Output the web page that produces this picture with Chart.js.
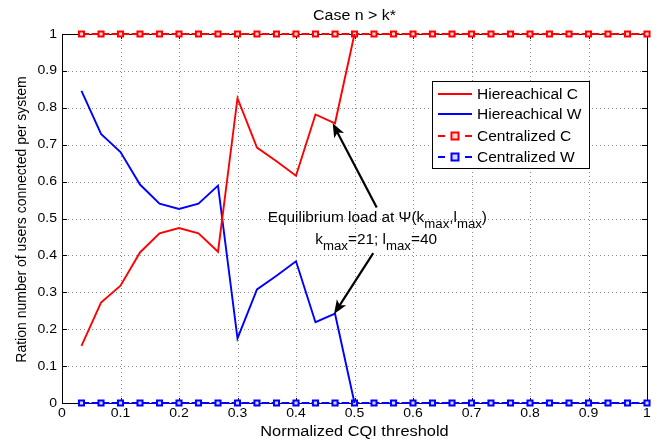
<!DOCTYPE html>
<html><head><meta charset="utf-8">
<script src="https://cdn.jsdelivr.net/npm/chart.js@4"></script>
<style>html,body{margin:0;padding:0;background:#fff}#wrap{width:669px;height:442px}</style>
</head><body><div id="wrap"><canvas id="c" width="669" height="442"></canvas></div>
<script>
const titleText = 'Case n > k*';
const xLabel = 'Normalized CQI threshold';
const yLabel = 'Ration number of users connected per system';
const xTicks = [0,0.1,0.2,0.3,0.4,0.5,0.6,0.7,0.8,0.9,1];
const yTicks = [0,0.1,0.2,0.3,0.4,0.5,0.6,0.7,0.8,0.9,1];
const hierX = [0.0333,0.0667,0.1,0.1333,0.1667,0.2,0.2333,0.2667,0.3,0.3333,0.3667,0.4,0.4333,0.4667,0.5];
const hierC = [0.155,0.272,0.318,0.408,0.460,0.474,0.460,0.410,0.826,0.692,0.655,0.616,0.782,0.758,1.0];
const hierW = [0.846,0.729,0.680,0.592,0.540,0.526,0.540,0.589,0.175,0.308,0.345,0.384,0.219,0.242,0.0];
const centX = [0.0333,0.0667,0.1,0.1333,0.1667,0.2,0.2333,0.2667,0.3,0.3333,0.3667,0.4,0.4333,0.4667,0.5,0.5333,0.5667,0.6,0.6333,0.6667,0.7,0.7333,0.7667,0.8,0.8333,0.8667,0.9,0.9333,0.9667,1.0];
const centC = [1,1,1,1,1,1,1,1,1,1,1,1,1,1,1,1,1,1,1,1,1,1,1,1,1,1,1,1,1,1];
const centW = [0,0,0,0,0,0,0,0,0,0,0,0,0,0,0,0,0,0,0,0,0,0,0,0,0,0,0,0,0,0];
const seriesLabels = ['Hiereachical C','Hiereachical W','Centralized C','Centralized W'];
// annotation anchors in data units
const arrows = [
  {from:[0.538,0.530], to:[0.4627,0.758]},
  {from:[0.532,0.406], to:[0.465,0.241]}
];
const annoLine1 = [['Equilibrium load at \u03A8(k',0],['max',1],[',l',0],['max',1],[')',0]];
const annoLine2 = [['k',0],['max',1],['=21; l',0],['max',1],['=40',0]];
const annoPos1 = [0.539,0.501];
const annoPos2 = [0.537,0.442];

const FONT = '"Liberation Sans", Arial, Helvetica, sans-serif';
const SX = 1.14; // horizontal text stretch seen in the reference
const pts = (xs, ys) => xs.map((x,i)=>({x:x,y:ys[i]}));

function txt(ctx, s, x, y, align, size, sx){
  ctx.save();
  ctx.font = size + 'px ' + FONT;
  ctx.textBaseline = 'middle';
  ctx.textAlign = align;
  ctx.translate(x, y); ctx.scale(sx || SX, 1);
  ctx.fillText(s, 0, 0);
  ctx.restore();
}

const gridPlugin = {
  id:'dotgrid',
  beforeDatasetsDraw(chart){
    const ctx = chart.ctx, a = chart.chartArea, xs = chart.scales.x, ys = chart.scales.y;
    ctx.save();
    ctx.fillStyle = '#8c8c8c';
    xTicks.slice(1,-1).forEach(t=>{
      const p = Math.round(xs.getPixelForValue(t));
      for(let y=a.top+2; y<a.bottom; y+=4) ctx.fillRect(p, y, 1, 1);
    });
    yTicks.slice(1,-1).forEach(t=>{
      const p = Math.round(ys.getPixelForValue(t));
      for(let x=a.left+2; x<a.right; x+=4) ctx.fillRect(x, p, 1, 1);
    });
    ctx.strokeStyle = '#000'; ctx.lineWidth = 1;
    ctx.strokeRect(Math.round(a.left)+0.5, Math.round(a.top)+0.5, Math.round(a.right-a.left), Math.round(a.bottom-a.top));
    ctx.beginPath();
    xTicks.forEach(t=>{const p=Math.round(xs.getPixelForValue(t))+0.5;
      ctx.moveTo(p,a.bottom); ctx.lineTo(p,a.bottom-5); ctx.moveTo(p,a.top); ctx.lineTo(p,a.top+5);});
    yTicks.forEach(t=>{const p=Math.round(ys.getPixelForValue(t))+0.5;
      ctx.moveTo(a.left,p); ctx.lineTo(a.left+5,p); ctx.moveTo(a.right,p); ctx.lineTo(a.right-5,p);});
    ctx.stroke();
    ctx.restore();
  }
};

const decor = {
  id:'decor',
  afterDatasetsDraw(chart){
    const ctx = chart.ctx, a = chart.chartArea, xs = chart.scales.x, ys = chart.scales.y;
    ctx.save();
    ctx.fillStyle = '#000';
    xTicks.forEach(t=>txt(ctx, String(t), xs.getPixelForValue(t), 413, 'center', 13, 1.08));
    yTicks.forEach(t=>txt(ctx, String(t), a.left-5, ys.getPixelForValue(t), 'right', 13, 1.08));
    txt(ctx, titleText, (a.left+a.right)/2, 16, 'center', 14);
    txt(ctx, xLabel, (a.left+a.right)/2, 432, 'center', 14, 1.17);
    ctx.save(); ctx.translate(22,(a.top+a.bottom)/2+1); ctx.rotate(-Math.PI/2);
    ctx.font='14px '+FONT; ctx.textAlign='center'; ctx.textBaseline='middle';
    ctx.fillText(yLabel,0,0); ctx.restore();
    arrows.forEach(ar=>{
      const x1=xs.getPixelForValue(ar.from[0]), y1=ys.getPixelForValue(ar.from[1]);
      const x2=xs.getPixelForValue(ar.to[0]), y2=ys.getPixelForValue(ar.to[1]);
      const ang=Math.atan2(y2-y1,x2-x1), L=15, W=0.38;
      ctx.strokeStyle='#000'; ctx.lineWidth=2.2;
      ctx.beginPath(); ctx.moveTo(x1,y1); ctx.lineTo(x2-Math.cos(ang)*8,y2-Math.sin(ang)*8); ctx.stroke();
      ctx.beginPath(); ctx.moveTo(x2,y2);
      ctx.lineTo(x2-L*Math.cos(ang-W), y2-L*Math.sin(ang-W));
      ctx.lineTo(x2-L*0.7*Math.cos(ang), y2-L*0.7*Math.sin(ang));
      ctx.lineTo(x2-L*Math.cos(ang+W), y2-L*Math.sin(ang+W));
      ctx.closePath(); ctx.fill();
    });
    const drawRich = (parts, pos)=>{
      const big='14px '+FONT, small='12px '+FONT;
      let w=0; parts.forEach(p=>{ctx.font=p[1]?small:big; w+=ctx.measureText(p[0]).width;});
      const cx=xs.getPixelForValue(pos[0]), y=ys.getPixelForValue(pos[1]);
      ctx.save(); ctx.translate(cx,y); ctx.scale(1.1,1);
      let x=-w/2;
      ctx.textAlign='left'; ctx.textBaseline='middle';
      parts.forEach(p=>{ctx.font=p[1]?small:big; ctx.fillText(p[0],x,p[1]?7:0); x+=ctx.measureText(p[0]).width;});
      ctx.restore();
    };
    drawRich(annoLine1, annoPos1);
    drawRich(annoLine2, annoPos2);
    const lx=432, ly=81, lw=157, lh=87;
    ctx.fillStyle='#fff'; ctx.fillRect(lx,ly,lw,lh);
    ctx.strokeStyle='#000'; ctx.lineWidth=1; ctx.strokeRect(lx+0.5,ly+0.5,lw,lh);
    const rows=[94,114,136,157], cols=['#ff0000','#0000ff','#ff0000','#0000ff'], fills=['','','#ffd6d6','#d6d6ff'];
    rows.forEach((ry,i)=>{
      ctx.strokeStyle=cols[i]; ctx.lineWidth=2;
      if(i<2){ctx.beginPath(); ctx.moveTo(438,ry); ctx.lineTo(472,ry); ctx.stroke();}
      else{
        ctx.beginPath(); ctx.moveTo(438,ry); ctx.lineTo(445,ry); ctx.moveTo(465,ry); ctx.lineTo(472,ry); ctx.stroke();
        ctx.lineWidth=2; ctx.fillStyle=fills[i]; ctx.fillRect(451.5,ry-3.5,7,7); ctx.strokeRect(451.5,ry-3.5,7,7);
      }
      ctx.fillStyle='#000';
      txt(ctx, seriesLabels[i], 477, ry+1, 'left', 14, 1.11);
    });
    ctx.restore();
  }
};

new Chart(document.getElementById('c'),{
  type:'line',
  data:{datasets:[
    {label:seriesLabels[0],data:pts(hierX,hierC),borderColor:'#ff0000',borderWidth:1.9,pointRadius:0,tension:0,clip:false},
    {label:seriesLabels[1],data:pts(hierX,hierW),borderColor:'#0000ff',borderWidth:1.9,pointRadius:0,tension:0,clip:false},
    {label:seriesLabels[2],data:pts(centX,centC),borderColor:'#ff0000',borderWidth:1.9,borderDash:[8,2],pointStyle:'rect',pointRadius:3.6,pointBorderWidth:2,pointBackgroundColor:'#ffd6d6',pointBorderColor:'#ff0000',clip:false},
    {label:seriesLabels[3],data:pts(centX,centW),borderColor:'#0000ff',borderWidth:1.9,borderDash:[8,2],pointStyle:'rect',pointRadius:3.6,pointBorderWidth:2,pointBackgroundColor:'#d6d6ff',pointBorderColor:'#0000ff',clip:false}
  ]},
  options:{
    responsive:false, animation:false, devicePixelRatio:1,
    layout:{padding:{left:0,right:22,top:34,bottom:0}},
    plugins:{legend:{display:false},tooltip:{enabled:false},title:{display:false}},
    scales:{
      x:{type:'linear',min:0,max:1,
        afterBuildTicks:s=>{s.ticks=xTicks.map(v=>({value:v}));},
        afterFit:s=>{s.height=39;},
        grid:{display:false}, border:{display:false},
        ticks:{display:false}
      },
      y:{type:'linear',min:0,max:1,
        afterBuildTicks:s=>{s.ticks=yTicks.map(v=>({value:v}));},
        afterFit:s=>{s.width=62;},
        grid:{display:false}, border:{display:false},
        ticks:{display:false}
      }
    }
  },
  plugins:[gridPlugin, decor]
});
</script></body></html>
